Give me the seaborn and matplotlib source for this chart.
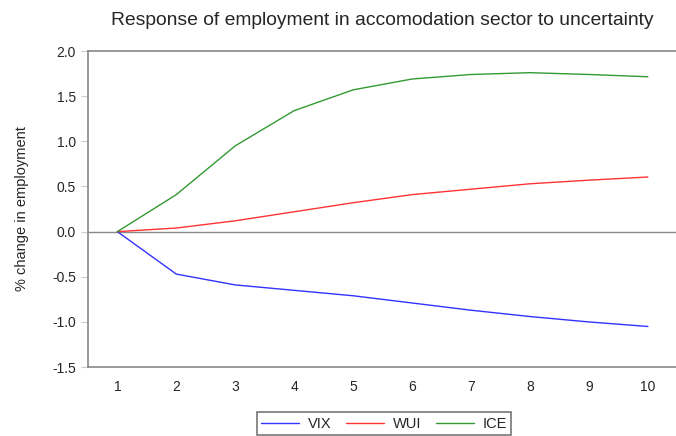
import numpy as np
import pandas as pd
import matplotlib
matplotlib.use("Agg")
import matplotlib.pyplot as plt
import seaborn as sns

# impulse response values
periods = [1, 2, 3, 4, 5, 6, 7, 8, 9, 10]
vix = [0.0, -0.47, -0.59, -0.65, -0.71, -0.79, -0.87, -0.94, -1.00, -1.05]
wui = [0.0, 0.04, 0.12, 0.22, 0.32, 0.41, 0.47, 0.53, 0.57, 0.605]
ice = [0.0, 0.41, 0.95, 1.34, 1.57, 1.69, 1.74, 1.76, 1.74, 1.715]
series = ["VIX", "WUI", "ICE"]
colors = ["#3333ff", "#ff3333", "#339933"]

df = pd.DataFrame({"period": periods * 3,
                   "value": vix + wui + ice,
                   "series": np.repeat(series, len(periods))})

sns.set_style("white")
plt.rcParams['font.family'] = ['Liberation Sans', 'DejaVu Sans']

fig = plt.figure(figsize=(6.76, 4.36), dpi=100)
ax = fig.add_axes([0.130, 0.158, 0.872, 0.725])

sns.lineplot(data=df, x="period", y="value", hue="series",
             palette=dict(zip(series, colors)), linewidth=1.0, ax=ax, legend=False)
ax.axhline(0, color="#888888", linewidth=1.0, zorder=0)

ax.set_xlim(0.5, 10.5)
ax.set_ylim(-1.5, 2.0)
ax.set_yticks(np.arange(-1.5, 2.01, 0.5))
ax.set_yticklabels([f"{v:.1f}" for v in np.arange(-1.5, 2.01, 0.5)], fontsize=10)
ax.set_xticks(periods)
ax.set_xticklabels([str(p) for p in periods], fontsize=10)
ax.set_xticks(np.arange(0.5, 10.6, 1.0), minor=True)
ax.tick_params(axis="x", which="major", length=0, pad=9)
ax.tick_params(axis="x", which="minor", length=5, color="#999999", direction="out")
ax.tick_params(axis="y", length=5, color="#cccccc", direction="out", left=True)
ax.set_xlabel("")
ax.set_ylabel("% change in employment", fontsize=10.5, labelpad=17)

for s in ["left", "bottom", "top"]:
    ax.spines[s].set_color("#888888")
    ax.spines[s].set_linewidth(1.2)
ax.spines["right"].set_visible(False)

ax.set_title("Response of employment in accomodation sector to uncertainty",
             fontsize=13.9, pad=19)

handles = [plt.Line2D([], [], color=c, linewidth=1.0) for c in colors]
leg = fig.legend(handles, series, loc="center", bbox_to_anchor=(0.5 + 0.068, 0.028),
                 ncol=3, frameon=True, fancybox=False, fontsize=10.5,
                 handlelength=2.6, columnspacing=1.0, handletextpad=0.6, borderpad=0.3)
leg.get_frame().set_edgecolor("#555555")
leg.get_frame().set_linewidth(1.2)

fig.savefig("out.png", dpi=100)
